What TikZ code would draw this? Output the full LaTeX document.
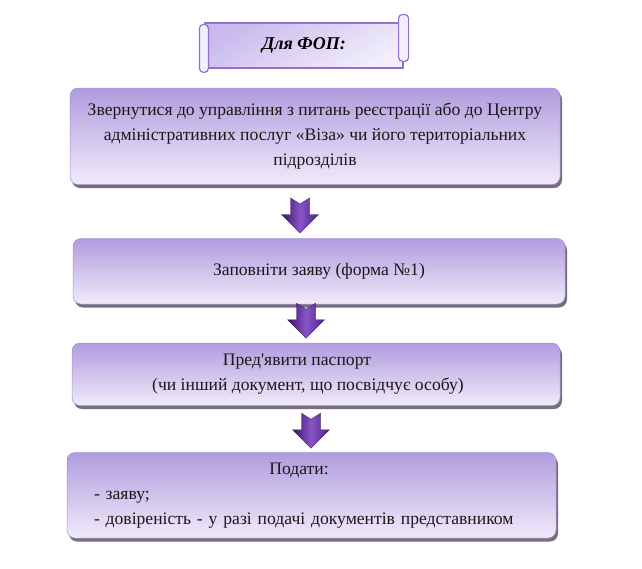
\documentclass[tikz,border=0pt]{standalone}
\usepackage{fontspec}
\setmainfont{Liberation Serif}
\usetikzlibrary{positioning,calc}
\definecolor{boxtop}{RGB}{176,156,222}
\definecolor{boxbottom}{RGB}{240,235,250}
\definecolor{boxedge}{RGB}{165,145,212}
\definecolor{boxshadow}{RGB}{118,110,128}
\definecolor{arrowdark}{RGB}{58,18,104}
\definecolor{arrowlight}{RGB}{136,84,200}
\definecolor{scrollline}{RGB}{146,112,204}
\definecolor{scrollfill}{RGB}{200,186,236}
\definecolor{scrollpale}{RGB}{242,238,252}

\newcommand{\flowarrow}[3]{%
  \path ($(#1.south)!0.5!(#2.north)$) ++(#3) coordinate (mid);
  \draw[flow] (mid) ++(-9.5,-17.5) -- ++(9.5,6) -- ++(9.5,-6) -- ++(0,16.5) -- ++(9,0)
    -- ++(-18.5,18.5) -- ++(-18.5,-18.5) -- ++(9,0) -- cycle;}

\begin{document}
\begin{tikzpicture}[x=1pt,y=-1pt,
  stepbox/.style={rounded corners=8pt,top color=boxtop,bottom color=boxbottom,draw=boxedge,line width=0.5pt,
    preaction={fill=boxshadow,transform canvas={xshift=2pt,yshift=-3.5pt}},
    font=\fontsize{17.6}{25}\selectfont,align=center,text=black!90,inner sep=0pt},
  titlebox/.style={top color=scrollfill,bottom color=scrollpale,shading angle=30,draw=scrollline,line width=1.2pt,
    minimum width=198pt,minimum height=45pt,font=\fontsize{18}{22}\selectfont\bfseries\itshape},
  scrollroll/.style={fill=scrollpale,draw=scrollline,line width=1.2pt,rounded corners=4pt},
  flow/.style={left color=arrowdark,right color=arrowdark!75!arrowlight,middle color=arrowlight,draw=arrowdark!70!black,line width=0.3pt}]
  \useasboundingbox (0,0) rectangle (642,568);

  \node[titlebox] (title) at (304,45.5) {Для ФОП:};
  \draw[scrollroll] (title.north west) ++(-5,2) rectangle ++(9,48);
  \draw[scrollroll] (title.north east) ++(-5,-8) rectangle ++(10,47);

  \node[stepbox,minimum width=490pt,minimum height=96.5pt] (b1) at (315,136.25)
    {Звернутися до управління з питань реєстрації або до Центру\\адміністративних послуг «Віза» чи його територіальних\\підрозділів};
  \node[stepbox,minimum width=492pt,minimum height=65.5pt] (b2) [below=53.5pt of b1,xshift=4pt]
    {Заповніти заяву (форма №1)};
  \node[stepbox,minimum width=488pt,minimum height=62.5pt] (b3) [below=38.5pt of b2,xshift=-3pt]
    {Пред\textquotesingle явити паспорт\hspace*{38pt}\\(чи інший документ, що посвідчує особу)\hspace*{16pt}};
  \node[stepbox,minimum width=489pt,minimum height=85.5pt,text width=435pt,align=left] (b4) [below=46.5pt of b3,xshift=-4.5pt]
    {\makebox[410pt]{Подати:}\\- заяву;\\- довіреність - у разі подачі документів представником};

  \flowarrow{b1}{b2}{-17,4}
  \flowarrow{b2}{b3}{-11.5,-2.75}
  \flowarrow{b3}{b4}{-2.75,1.75}
\end{tikzpicture}
\end{document}
